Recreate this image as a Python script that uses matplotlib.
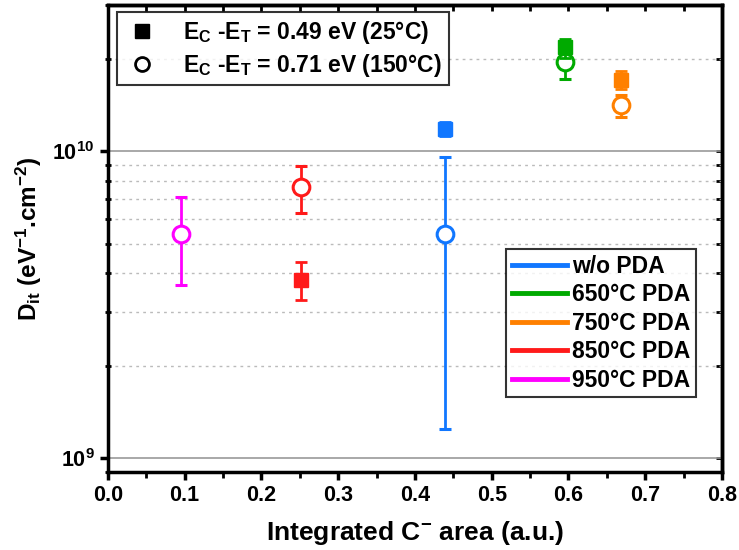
import matplotlib
matplotlib.use("Agg")
import matplotlib.pyplot as plt
from matplotlib.lines import Line2D
from matplotlib.ticker import LogLocator, MultipleLocator, NullFormatter

plt.rcParams['font.family'] = ['Liberation Sans', 'DejaVu Sans']
plt.rcParams['font.weight'] = 'bold'
plt.rcParams['mathtext.fontset'] = 'custom'
plt.rcParams['mathtext.rm'] = 'Liberation Sans:bold'
plt.rcParams['mathtext.it'] = 'Liberation Sans:bold'
plt.rcParams['mathtext.bf'] = 'Liberation Sans:bold'
plt.rcParams['mathtext.default'] = 'rm'

# series: name, colour, x position
labels = ['w/o PDA', '650°C PDA', '750°C PDA', '850°C PDA', '950°C PDA']
colors = ['#1177FF', '#00AA00', '#FF8000', '#FF1A1A', '#FF00FF']
x_area = [0.439, 0.595, 0.669, 0.252, 0.095]

# Ec-Et = 0.49 eV (25°C), filled squares (None = no point)
dit_049 = [1.18e10, 2.18e10, 1.71e10, 3.80e9, None]
dit_049_lo = [1.12e10, 2.02e10, 1.60e10, 3.27e9, None]
dit_049_hi = [1.25e10, 2.33e10, 1.83e10, 4.35e9, None]

# Ec-Et = 0.71 eV (150°C), open circles
dit_071 = [5.37e9, 1.95e10, 1.41e10, 7.63e9, 5.37e9]
dit_071_lo = [1.24e9, 1.72e10, 1.29e10, 6.28e9, 3.66e9]
dit_071_hi = [9.56e9, 2.20e10, 1.52e10, 8.94e9, 7.08e9]

fig = plt.figure(figsize=(7.39, 5.50), dpi=100)
ax = fig.add_axes([0.146, 0.142, 0.831, 0.849])

for i in range(len(labels)):
    c = colors[i]
    if dit_071[i] is not None:
        ax.errorbar([x_area[i]], [dit_071[i]],
                    yerr=[[dit_071[i] - dit_071_lo[i]], [dit_071_hi[i] - dit_071[i]]],
                    fmt='o', color=c, ms=12, mfc='white', mec=c, mew=2.2,
                    elinewidth=2, capsize=4.5, capthick=2, zorder=3)
    if dit_049[i] is not None:
        ax.errorbar([x_area[i]], [dit_049[i]],
                    yerr=[[dit_049[i] - dit_049_lo[i]], [dit_049_hi[i] - dit_049[i]]],
                    fmt='s', color=c, ms=10.5, mfc=c, mec=c,
                    elinewidth=2, capsize=4.5, capthick=2, zorder=4)

ax.set_yscale('log')
ax.set_xlim(0.0, 0.8)
ax.set_ylim(9e8, 3e10)

ax.xaxis.set_major_locator(MultipleLocator(0.1))
ax.xaxis.set_minor_locator(MultipleLocator(0.05))
ax.yaxis.set_major_locator(LogLocator(base=10))
ax.yaxis.set_minor_locator(LogLocator(base=10, subs=range(2, 10)))
ax.yaxis.set_minor_formatter(NullFormatter())

ax.grid(True, which='major', axis='y', color='#999999', linewidth=1.2, linestyle='-')
ax.grid(True, which='minor', axis='y', color='#BBBBBB', linewidth=1, linestyle=(0, (2, 3)))
ax.set_axisbelow(True)

for s in ax.spines.values():
    s.set_linewidth(2.5)

ax.tick_params(axis='both', which='major', labelsize=15.5, width=2.5, length=6, direction='out')
ax.tick_params(axis='x', which='minor', width=2, length=4, direction='out')
ax.tick_params(axis='y', which='minor', width=2, length=4, direction='inout')

# inward ticks on top and right
top = ax.secondary_xaxis('top')
top.xaxis.set_major_locator(MultipleLocator(0.1))
top.xaxis.set_minor_locator(MultipleLocator(0.05))
top.tick_params(which='both', direction='in', labeltop=False, width=2, length=4)
top.spines['top'].set_linewidth(2.5)

right = ax.secondary_yaxis('right')
right.yaxis.set_major_locator(LogLocator(base=10))
right.yaxis.set_minor_locator(LogLocator(base=10, subs=range(2, 10)))
right.yaxis.set_minor_formatter(NullFormatter())
right.tick_params(which='both', direction='in', labelright=False, width=2, length=4)
right.spines['right'].set_linewidth(2.5)

ax.set_xlabel('Integrated C$^{-}$ area (a.u.)', fontsize=19, fontweight='bold', labelpad=9)
ax.set_ylabel('D$_{it}$ (eV$^{-1}$.cm$^{-2}$)', fontsize=17.5, fontweight='bold', labelpad=6)

# legend for activation energies
h1 = [Line2D([], [], ls='none', marker='s', ms=10, color='black'),
      Line2D([], [], ls='none', marker='o', ms=10, mfc='white', mec='black', mew=2)]
leg1 = ax.legend(h1, ['E$_C$ -E$_T$ = 0.49 eV (25°C)', 'E$_C$ -E$_T$ = 0.71 eV (150°C)'],
                 loc='upper left', bbox_to_anchor=(0.0147, 0.985), borderaxespad=0,
                 fontsize=16.5, frameon=True, fancybox=False, edgecolor='black',
                 handlelength=1.6, handletextpad=1.0, borderpad=0.3, labelspacing=0.25)
leg1.get_frame().set_linewidth(1.5)
ax.add_artist(leg1)

h2 = [Line2D([], [], color=c, lw=3.5) for c in colors]
leg2 = ax.legend(h2, labels, loc='upper right', bbox_to_anchor=(0.958, 0.4775), borderaxespad=0,
                 fontsize=16.5, frameon=True, fancybox=False, edgecolor='black',
                 handlelength=2.4, handletextpad=0.25, borderpad=0.25, labelspacing=0.24,
                 handleheight=0.6)
leg2.get_frame().set_linewidth(1.5)

fig.savefig('out.png', dpi=100)
